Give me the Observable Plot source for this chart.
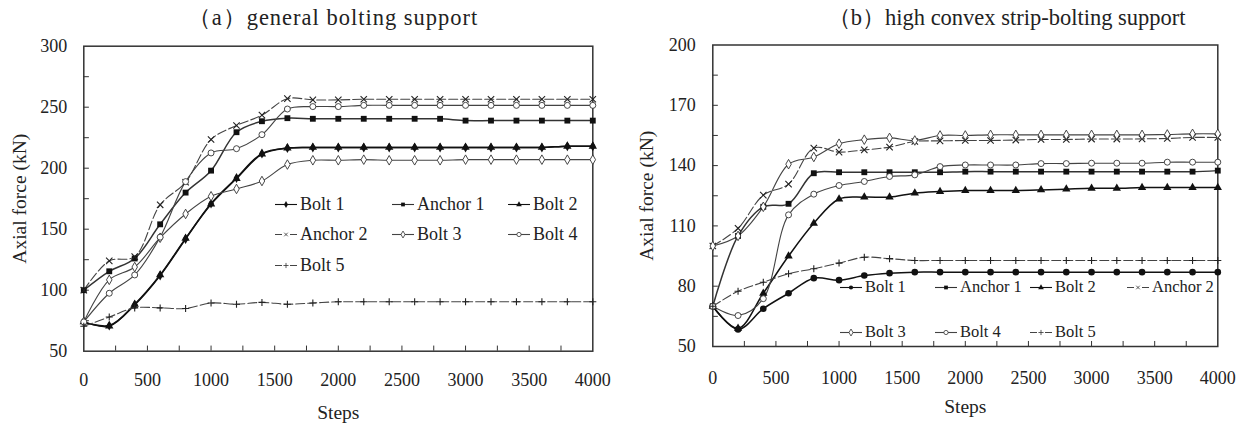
<!DOCTYPE html>
<html>
<head>
<meta charset="utf-8">
<script src="https://cdn.jsdelivr.net/npm/d3@7"></script>
<script src="https://cdn.jsdelivr.net/npm/@observablehq/plot@0.6"></script>
<style>
  html, body { margin: 0; padding: 0; background: #fff; }
  body { width: 1245px; height: 423px; overflow: hidden; position: relative;
         font-family: "Liberation Serif", "Times New Roman", serif; color: #222; }
  .panel { position: absolute; top: 0; height: 423px; }
  .panel > svg { position: absolute; left: 0; top: 0; }
  .title { position: absolute; white-space: nowrap; font-size: 22.5px; line-height: 22px;
           transform: translateX(-50%); color: #222; }
  .leg { position: absolute; white-space: nowrap; display: flex; align-items: center; color: #222; }
  .leg svg { position: static; margin-right: 3px; }
</style>
</head>
<body>
<div id="panelA" class="panel" style="left:0px;width:620px"></div>
<div id="panelB" class="panel" style="left:620px;width:625px"></div>
<script>
// ---------- data ----------
const steps = [0, 200, 400, 600, 800, 1000, 1200, 1400, 1600, 1800, 2000, 2200, 2400, 2600, 2800, 3000, 3200, 3400, 3600, 3800, 4000];
const seriesNames = ["Bolt 1", "Anchor 1", "Bolt 2", "Anchor 2", "Bolt 3", "Bolt 4", "Bolt 5"];

// (a) general bolting support
const aBolt1   = [74, 71, 88, 112, 142, 171, 192, 212, 216.5, 217, 217, 217, 217, 217, 217, 217, 217, 217, 217, 218, 218];
const aAnchor1 = [100, 115.5, 126, 154, 180, 198, 229.5, 238.5, 241, 240.5, 240.5, 240.5, 240.5, 240.5, 240.5, 239, 239, 239, 239, 239, 239];
const aBolt2   = [74, 70.5, 88.5, 112.5, 142.5, 170.5, 191.5, 211.5, 216.5, 217, 217, 217, 217, 217, 217, 217, 217, 217, 217, 218, 218];
const aAnchor2 = [100, 124, 127.5, 170, 188.5, 223.5, 235, 243.5, 257, 256, 256, 256.5, 256.5, 256.5, 256.5, 256.5, 256.5, 256.5, 256.5, 256.5, 256.5];
const aBolt3   = [74, 108.5, 119, 143, 162.5, 177, 183, 189.5, 203, 206.5, 206.5, 207, 206.5, 206.5, 206.5, 207, 207, 207, 207, 207, 207];
const aBolt4   = [74, 97.5, 112.5, 143.5, 189, 212.5, 216, 227.5, 248.5, 250.5, 250.5, 251.5, 251.5, 251.5, 251.5, 251.5, 251.5, 251.5, 251.5, 251.5, 251.5];
const aBolt5   = [70.5, 78, 85.5, 85.5, 85, 89.5, 88.5, 90, 88.5, 89.5, 90.5, 90.5, 90.5, 90.5, 90.5, 90.5, 90.5, 90.5, 90.5, 90.5, 90.5];

// (b) high convex strip-bolting support
const bBolt1   = [70, 58.5, 68.8, 76.5, 84, 83, 85.3, 86.5, 87, 87, 87, 87, 87, 87, 87, 87, 87, 87, 87, 87, 87];
const bAnchor1 = [70, 105, 119.5, 121, 136.2, 136.7, 136.7, 136.7, 136.7, 136.7, 137, 137, 137, 137, 137, 137, 137, 137, 137, 137, 137.5];
const bBolt2   = [70, 59, 76.5, 95, 111.3, 123.4, 124.3, 124.3, 126.3, 127.1, 127.6, 127.6, 127.6, 127.9, 128.3, 128.7, 128.7, 129.1, 129.1, 129.1, 129.1];
const bAnchor2 = [100, 108.8, 125.3, 130.8, 148.7, 146.7, 147.8, 149.2, 152, 152.3, 152.5, 152.5, 152.7, 153, 153, 153.2, 153.2, 153.3, 153.5, 154, 154];
const bBolt3   = [100, 105, 119.5, 140.7, 144.3, 150.9, 152.9, 153.8, 152.5, 155, 155, 155.3, 155.3, 155.3, 155.3, 155.3, 155.3, 155.3, 155.5, 155.8, 155.8];
const bBolt4   = [70, 65.4, 73.8, 115.5, 125.8, 130.1, 132.1, 134.6, 135.4, 139.5, 140.3, 140.3, 140.3, 141, 141, 141.2, 141.2, 141.2, 141.7, 141.7, 141.7];
const bBolt5   = [70, 77.5, 82, 86.2, 88.7, 91.5, 94.4, 93.7, 92.8, 92.8, 92.8, 92.8, 92.8, 92.8, 92.8, 92.8, 92.8, 92.8, 92.8, 92.8, 92.8];

// ticks
const xTicks = [0, 500, 1000, 1500, 2000, 2500, 3000, 3500, 4000];
const xTickMarks = [250, 500, 750, 1000, 1250, 1500, 1750, 2000, 2250, 2500, 2750, 3000, 3250, 3500, 3750];
const yTicksA = [50, 100, 150, 200, 250, 300];
const yTickMarksA = [75, 100, 125, 150, 175, 200, 225, 250, 275];
const yTicksB = [50, 80, 110, 140, 170, 200];
const yTickMarksB = [65, 80, 95, 110, 125, 140, 155, 170, 185];

// ---------- styles ----------
const INK = "#222";
const FONT = '"Liberation Serif", "Times New Roman", serif';
function styleFor(name, panel) {
  switch (name) {
    case "Bolt 1":   return {stroke: "#111", sw: 1.5, dash: null, symbol: panel === "A" ? "diamond" : "circle", fill: "#111", r: panel === "A" ? 3.0 : 3.3};
    case "Anchor 1": return {stroke: "#333", sw: 1.5, dash: null, symbol: "square", fill: "#111", r: 3.3};
    case "Bolt 2":   return {stroke: "#111", sw: 1.5, dash: null, symbol: "triangle", fill: "#111", r: 3.1};
    case "Anchor 2": return {stroke: "#444", sw: 1.1, dash: "9,3", symbol: "times", fill: "none", r: 3.0};
    case "Bolt 3":   return {stroke: "#444", sw: 1.1, dash: null, symbol: "diamond", fill: "white", r: 2.9};
    case "Bolt 4":   return {stroke: "#444", sw: 1.1, dash: null, symbol: "circle", fill: "white", r: 3.0};
    case "Bolt 5":   return {stroke: "#444", sw: 1.1, dash: "9,3", symbol: "plus", fill: "none", r: 2.4};
  }
}

function buildPanel(cfg) {
  const marks = [
    Plot.frame({stroke: "#333", strokeWidth: 1.5}),
    Plot.ruleY(cfg.yTickMarks, {x1: 0, x2: 44, stroke: "#333", strokeWidth: 1}),
    Plot.ruleX(xTickMarks, {y1: cfg.yDomain[0], y2: cfg.yDomain[0] + cfg.xTickLen, stroke: "#333", strokeWidth: 1}),
    Plot.axisY(cfg.yTicks, {tickSize: 0, tickPadding: cfg.yPad, tickFormat: d => `${d}`, fontSize: 18, fill: INK, fontFamily: FONT,
      label: "Axial force (kN)", labelAnchor: "center", labelOffset: cfg.yLabelOffset, labelArrow: "none"}),
    Plot.axisX(xTicks, {tickSize: 0, tickPadding: cfg.xPad, tickFormat: d => `${d}`, fontSize: 18, fill: INK, fontFamily: FONT,
      label: "Steps", labelAnchor: "center", labelOffset: cfg.xLabelOffset, labelArrow: "none"})
  ];
  const tables = cfg.series.map(s => ({name: s.name, rows: s.values.map((v, i) => ({step: steps[i], value: v}))}));
  for (const t of tables) {
    const st = styleFor(t.name, cfg.id);
    marks.push(Plot.line(t.rows, {x: "step", y: "value", curve: "catmull-rom", stroke: st.stroke,
      strokeWidth: st.sw, strokeDasharray: st.dash}));
  }
  for (const t of tables) {
    const st = styleFor(t.name, cfg.id);
    const isStroke = st.symbol === "times" || st.symbol === "plus";
    marks.push(Plot.dot(t.rows, {x: "step", y: "value", symbol: () => st.symbol, r: st.r,
      fill: isStroke ? "none" : st.fill, stroke: isStroke ? "#222" : (st.fill === "white" ? "#333" : "none"),
      strokeWidth: isStroke ? 1.1 : 0.9}));
  }
  const svg = Plot.plot({
    width: cfg.width, height: 423,
    marginLeft: cfg.ml, marginRight: cfg.mr, marginTop: cfg.mt, marginBottom: cfg.mb,
    x: {domain: [0, 4000]},
    y: {domain: cfg.yDomain},
    style: {fontFamily: FONT, fontSize: "19px", color: INK, background: "transparent", overflow: "visible"},
    marks
  });
  const host = document.getElementById(cfg.host);
  host.appendChild(svg);
  // axis titles slightly larger than tick labels
  d3.select(svg).selectAll("text").each(function () {
    const t = this.textContent;
    if (t.indexOf("Axial") >= 0 || t.indexOf("Steps") >= 0) {
      this.style.setProperty("font-size", "19.5px", "important");
    }
  });

  const title = document.createElement("div");
  title.className = "title";
  title.textContent = cfg.title;
  title.style.left = cfg.titleX + "px";
  title.style.top = cfg.titleTop + "px";
  if (cfg.titleSpacing) title.style.letterSpacing = cfg.titleSpacing;
  host.appendChild(title);

  cfg.series.forEach((s, i) => {
    const st = styleFor(s.name, cfg.id);
    const col = cfg.legendCols[i], row = cfg.legendRows[i];
    const item = document.createElement("div");
    item.className = "leg";
    item.style.left = col + "px";
    item.style.top = (row - 12) + "px";
    item.style.height = "24px";
    item.style.fontSize = cfg.legendFont + "px";
    const sv = d3.create("svg").attr("width", 22).attr("height", 12);
    sv.append("line").attr("x1", 0).attr("x2", 22).attr("y1", 6.5).attr("y2", 6.5)
      .attr("stroke", st.stroke).attr("stroke-width", 1.1)
      .attr("stroke-dasharray", st.dash ? "7,8,7" : null);
    const symMap = {diamond: d3.symbolDiamond, circle: d3.symbolCircle, square: d3.symbolSquare,
      triangle: d3.symbolTriangle, times: d3.symbolTimes, plus: d3.symbolPlus};
    const isStroke = st.symbol === "times" || st.symbol === "plus";
    sv.append("path").attr("transform", "translate(11,6.5)")
      .attr("d", d3.symbol(symMap[st.symbol], isStroke ? 10 : 14)())
      .attr("fill", isStroke ? "none" : st.fill)
      .attr("stroke", isStroke || st.fill === "white" ? "#333" : "none")
      .attr("stroke-width", 0.8);
    item.appendChild(sv.node());
    const span = document.createElement("span");
    span.textContent = s.name;
    item.appendChild(span);
    host.appendChild(item);
  });
}

buildPanel({
  id: "A", host: "panelA", width: 620,
  ml: 83.3, mr: 27.7, mt: 45.7, mb: 72.3,
  yDomain: [50, 300], yTicks: yTicksA, yTickMarks: yTickMarksA, xTickLen: 4.2,
  yPad: 16.5, xPad: 22, yLabelOffset: 72, xLabelOffset: 68,
  title: "（a）general bolting support", titleX: 333, titleTop: 7, titleSpacing: "1px",
  series: [
    {name: seriesNames[0], values: aBolt1},
    {name: seriesNames[1], values: aAnchor1},
    {name: seriesNames[2], values: aBolt2},
    {name: seriesNames[3], values: aAnchor2},
    {name: seriesNames[4], values: aBolt3},
    {name: seriesNames[5], values: aBolt4},
    {name: seriesNames[6], values: aBolt5}
  ],
  legendCols: [275, 392, 508, 275, 392, 508, 275],
  legendRows: [204, 204, 204, 234, 234, 234, 265],
  legendFont: 18
});

buildPanel({
  id: "B", host: "panelB", width: 625,
  ml: 92.3, mr: 27.7, mt: 44.5, mb: 77,
  yDomain: [50, 200], yTicks: yTicksB, yTickMarks: yTickMarksB, xTickLen: 2.5,
  yPad: 17, xPad: 25, yLabelOffset: 74, xLabelOffset: 66,
  title: "（b）high convex strip-bolting support", titleX: 386.7, titleTop: 7,
  series: [
    {name: seriesNames[0], values: bBolt1},
    {name: seriesNames[1], values: bAnchor1},
    {name: seriesNames[2], values: bBolt2},
    {name: seriesNames[3], values: bAnchor2},
    {name: seriesNames[4], values: bBolt3},
    {name: seriesNames[5], values: bBolt4},
    {name: seriesNames[6], values: bBolt5}
  ],
  legendCols: [220, 315, 410, 507, 220, 315, 410],
  legendRows: [287, 287, 287, 287, 332, 332, 332],
  legendFont: 16.5
});
</script>
</body>
</html>
